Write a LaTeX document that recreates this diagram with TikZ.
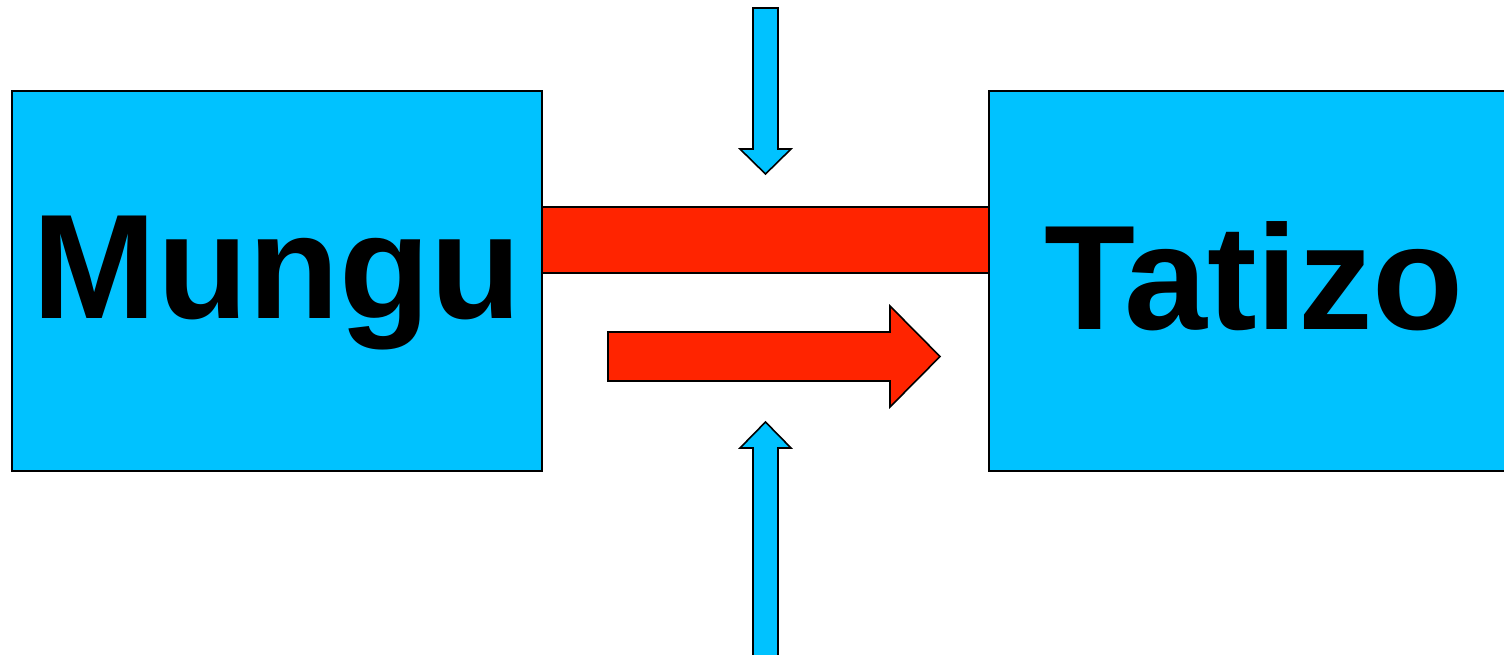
\documentclass[tikz,border=0pt]{standalone}
\usepackage{fontspec}
\setmainfont{Liberation Sans}
\definecolor{boxblue}{RGB}{0,194,255}
\definecolor{barred}{RGB}{255,36,0}
\begin{document}
\begin{tikzpicture}[x=1pt,y=-1pt,
  outlined/.style={draw=black,line width=1.6pt,line join=miter},
  bluebox/.style={outlined,fill=boxblue},
  redshape/.style={outlined,fill=barred},
  bigtext/.style={font=\fontsize{149}{150}\selectfont\bfseries,anchor=base,inner sep=0pt}]
\useasboundingbox (0,0) rectangle (1504,655);
% boxes
\draw[bluebox] (12,91) rectangle (542,471);
\draw[bluebox] (989,91) rectangle (1519,471);
\node[bigtext] (mungu) at (277,318) {Mungu};
\node[bigtext] (tatizo) at (1254,329) {Tatizo};
% red bar
\draw[redshape] (542,207) rectangle (989,273);
% red arrow
\draw[redshape] (608,332) -- (890,332) -- (890,306) -- (940,356.5) -- (890,407) -- (890,381) -- (608,381) -- cycle;
% top blue arrow
\draw[bluebox] (753,8) -- (778,8) -- (778,149) -- (791,149) -- (765.5,174) -- (740,149) -- (753,149) -- cycle;
% bottom blue arrow
\draw[bluebox] (753,670) -- (753,448) -- (740,448) -- (765.5,422) -- (791,448) -- (778,448) -- (778,670) -- cycle;
\end{tikzpicture}
\end{document}
